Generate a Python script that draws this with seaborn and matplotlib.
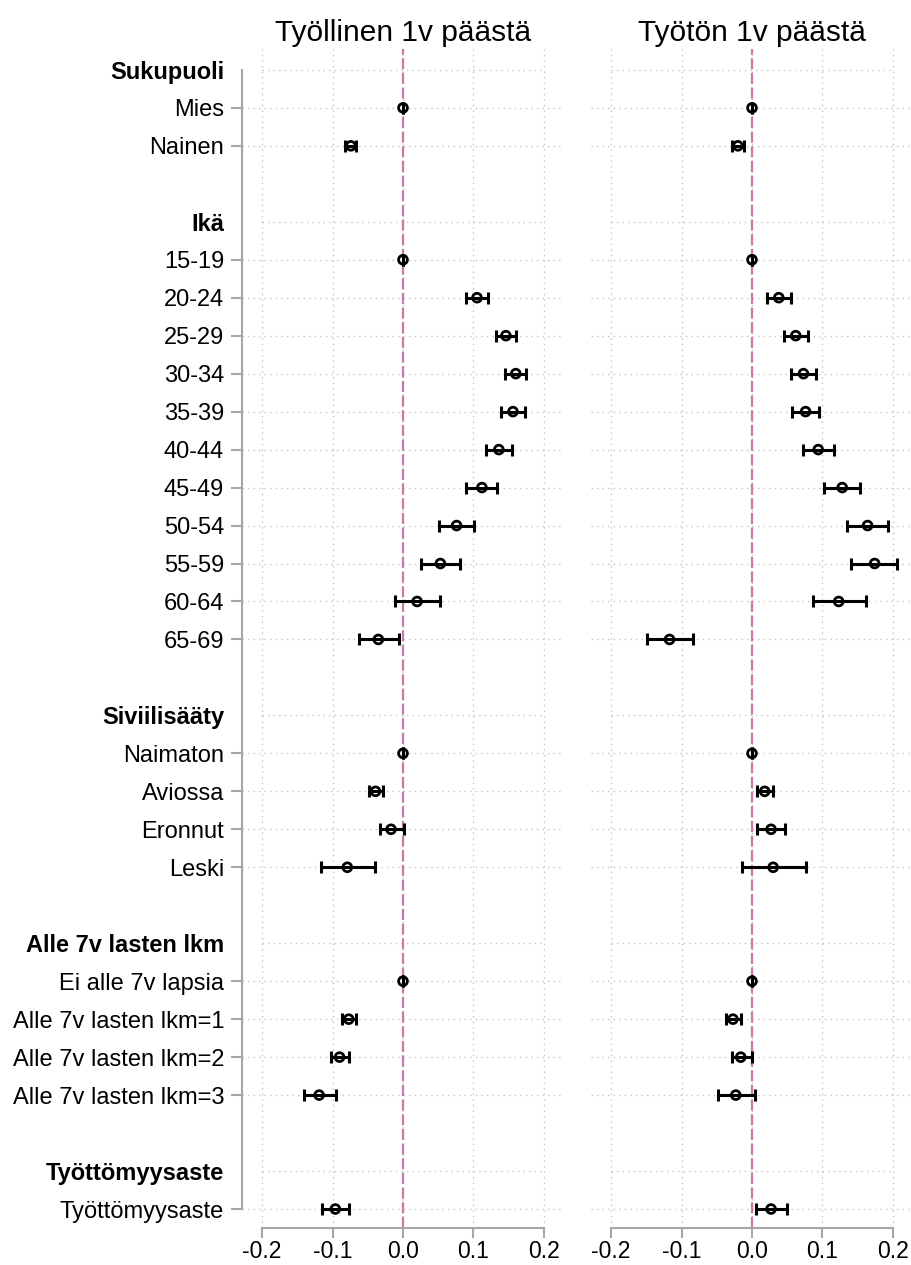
import numpy as np
import pandas as pd
import matplotlib
matplotlib.use("Agg")
import matplotlib.pyplot as plt
import seaborn as sns

sns.set_theme(style="white")
plt.rcParams['font.family'] = ['Liberation Sans', 'DejaVu Sans']
plt.rcParams['axes.unicode_minus'] = False
plt.rcParams['text.color'] = 'black'
plt.rcParams['xtick.color'] = 'black'
plt.rcParams['ytick.color'] = 'black'

# muuttujaryhmät ja niiden luokat
groups = ["Sukupuoli", "Ikä", "Siviilisääty", "Alle 7v lasten lkm", "Työttömyysaste"]
sukupuoli = ["Mies", "Nainen"]
ika = ["15-19", "20-24", "25-29", "30-34", "35-39", "40-44", "45-49",
       "50-54", "55-59", "60-64", "65-69"]
siviilisaaty = ["Naimaton", "Aviossa", "Eronnut", "Leski"]
lapset = ["Ei alle 7v lapsia", "Alle 7v lasten lkm=1", "Alle 7v lasten lkm=2",
          "Alle 7v lasten lkm=3"]
tyottomyys = ["Työttömyysaste"]
group_terms = [sukupuoli, ika, siviilisaaty, lapset, tyottomyys]

panel_titles = ["Työllinen 1v päästä", "Työtön 1v päästä"]

# Työllinen 1v päästä
est_tyollinen = [0, -0.074,
                 0, 0.105, 0.146, 0.160, 0.156, 0.136, 0.112, 0.076, 0.053, 0.020, -0.035,
                 0, -0.039, -0.017, -0.079,
                 0, -0.077, -0.090, -0.119,
                 -0.096]
lo_tyollinen = [0, -0.082,
                0, 0.090, 0.132, 0.145, 0.139, 0.118, 0.090, 0.051, 0.025, -0.011, -0.063,
                0, -0.048, -0.033, -0.117,
                0, -0.086, -0.102, -0.140,
                -0.115]
hi_tyollinen = [0, -0.066,
                0, 0.120, 0.161, 0.175, 0.173, 0.155, 0.134, 0.101, 0.081, 0.053, -0.006,
                0, -0.028, 0.001, -0.040,
                0, -0.067, -0.076, -0.095,
                -0.076]

# Työtön 1v päästä
est_tyoton = [0, -0.020,
              0, 0.038, 0.062, 0.073, 0.076, 0.094, 0.128, 0.164, 0.174, 0.123, -0.117,
              0, 0.018, 0.027, 0.030,
              0, -0.027, -0.016, -0.023,
              0.027]
lo_tyoton = [0, -0.028,
             0, 0.021, 0.045, 0.055, 0.057, 0.073, 0.102, 0.135, 0.140, 0.086, -0.149,
             0, 0.007, 0.007, -0.014,
             0, -0.037, -0.029, -0.048,
             0.005]
hi_tyoton = [0, -0.011,
             0, 0.056, 0.080, 0.091, 0.095, 0.116, 0.153, 0.193, 0.206, 0.162, -0.083,
             0, 0.030, 0.047, 0.076,
             0, -0.016, 0.000, 0.004,
             0.050]

xticks = [-0.2, -0.1, 0.0, 0.1, 0.2]

# rivien sijainnit: otsikko, luokat, tyhjä rivi
header_pos, term_pos, term_labels = [], [], []
pos = 0
for g, terms in zip(groups, group_terms):
    header_pos.append(pos)
    pos += 1
    for t in terms:
        term_pos.append(pos)
        term_labels.append(t)
        pos += 1
    pos += 1
last_row = term_pos[-1]

panels = []
for est, lo, hi in [(est_tyollinen, lo_tyollinen, hi_tyollinen),
                    (est_tyoton, lo_tyoton, hi_tyoton)]:
    panels.append(pd.DataFrame({"term": term_labels, "pos": term_pos,
                                "est": est, "lo": lo, "hi": hi}))

W, H = 912, 1265
fig = plt.figure(figsize=(W / 100, H / 100), dpi=100)
ax_top, ax_bot = 49, 1228
ax_w = 321.4
lefts = [242.3, 591.3]

grid_kw = dict(color="#c4c4c4", lw=1.0, ls=(0, (1, 3)), zorder=0)
spine_col = "#a6a6a6"
xlim = (-0.228, 0.228)

for i, df in enumerate(panels):
    ax = fig.add_axes([lefts[i] / W, (H - ax_bot) / H, ax_w / W, (ax_bot - ax_top) / H])
    ax.set_xlim(*xlim)
    ax.set_ylim(last_row + 0.5, -0.55)

    # pisteellinen ruudukko
    for x in xticks:
        ax.axvline(x, **grid_kw)
    ax.hlines(term_pos, xlim[0], xlim[1], **grid_kw)
    ax.hlines(header_pos, xticks[0], xticks[-1], **grid_kw)

    ax.axvline(0, color="#CC79A7", lw=1.6, ls=(0, (5, 1.6)), zorder=1)

    # luottamusvälit ja piste-estimaatit
    ax.errorbar(df["est"], df["pos"],
                xerr=[df["est"] - df["lo"], df["hi"] - df["est"]],
                fmt="none", ecolor="black", elinewidth=2.2, capsize=4,
                capthick=2.2, zorder=3)
    sns.scatterplot(data=df, x="est", y="pos", ax=ax, marker="o", s=40,
                    facecolor="none", edgecolor="black", linewidth=2.0,
                    zorder=4, legend=False)

    ax.set_xlabel("")
    ax.set_ylabel("")
    ax.set_title(panel_titles[i], fontsize=21.5, pad=6)

    ax.set_xticks(xticks)
    ax.set_xticklabels([f"{x:.1f}" for x in xticks], fontsize=16.5)
    ax.tick_params(axis="x", bottom=True, length=7, width=1.5, color=spine_col,
                   pad=2, labelcolor="black")

    for s in ["top", "right"]:
        ax.spines[s].set_visible(False)
    ax.spines["bottom"].set_bounds(xticks[0], xticks[-1])
    ax.spines["bottom"].set_color(spine_col)
    ax.spines["bottom"].set_linewidth(1.5)

    if i == 0:
        ticks = header_pos + term_pos
        labels = groups + term_labels
        ax.set_yticks(ticks)
        ax.set_yticklabels(labels, fontsize=17)
        ax.tick_params(axis="y", left=True, length=8, width=1.5, color=spine_col,
                       pad=5, labelcolor="black")
        ytl = ax.yaxis.get_major_ticks()
        for k, t in enumerate(ytl):
            if k < len(groups):
                t.tick1line.set_visible(False)
                t.label1.set_fontweight("bold")
        ax.spines["left"].set_bounds(0, last_row)
        ax.spines["left"].set_color(spine_col)
        ax.spines["left"].set_linewidth(1.5)
    else:
        ax.set_yticks([])
        ax.spines["left"].set_visible(False)

fig.savefig("out.png", dpi=100)
